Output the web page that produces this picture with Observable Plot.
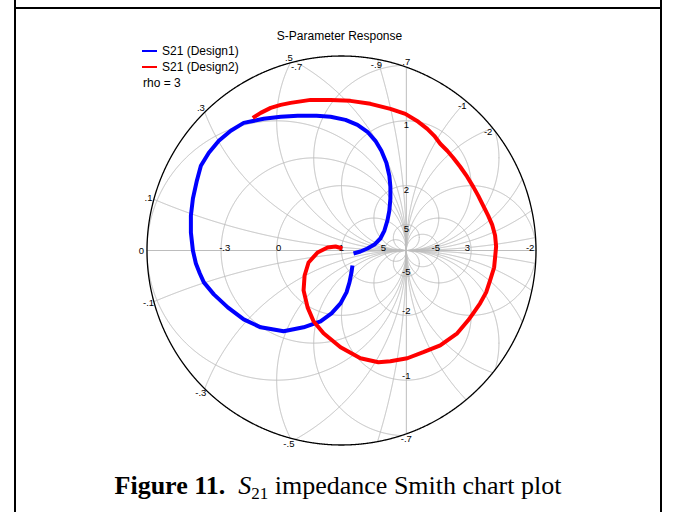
<!DOCTYPE html>
<html><head><meta charset="utf-8">
<script src="https://cdn.jsdelivr.net/npm/d3@7"></script>
<script src="https://cdn.jsdelivr.net/npm/@observablehq/plot@0.6"></script>
<style>
html,body{margin:0;padding:0;background:#fff;}
#page{position:relative;width:675px;height:512px;overflow:hidden;background:#fff;}
#chart{position:absolute;left:0;top:0;}
#overlay{position:absolute;left:0;top:0;pointer-events:none;}
</style></head>
<body>
<div id="page">
<div id="chart"></div>
<svg id="overlay" width="675" height="512" xmlns="http://www.w3.org/2000/svg">
  <line x1="15" y1="0" x2="15" y2="512" stroke="#000" stroke-width="2"/>
  <line x1="661" y1="0" x2="661" y2="512" stroke="#000" stroke-width="2"/>
  <line x1="14" y1="8" x2="662" y2="8" stroke="#000" stroke-width="2"/>
  <text x="339.5" y="40" text-anchor="middle" font-family="Liberation Sans, Arial, sans-serif" font-size="12" fill="#000">S-Parameter Response</text>
  <line x1="142" y1="51" x2="157" y2="51" stroke="#0000ff" stroke-width="2"/>
  <text x="162" y="55" font-family="Liberation Sans, Arial, sans-serif" font-size="12" fill="#000">S21 (Design1)</text>
  <line x1="142" y1="67" x2="157" y2="67" stroke="#ff0000" stroke-width="2"/>
  <text x="162" y="71" font-family="Liberation Sans, Arial, sans-serif" font-size="12" fill="#000">S21 (Design2)</text>
  <text x="143" y="87" font-family="Liberation Sans, Arial, sans-serif" font-size="12" fill="#000">rho = 3</text>
  <text x="338" y="494" text-anchor="middle" font-family="Liberation Serif, Times New Roman, serif" font-size="26" fill="#000"><tspan font-weight="bold">Figure 11.</tspan><tspan>&#160;&#160;</tspan><tspan font-style="italic">S</tspan><tspan font-size="17" dy="5">21</tspan><tspan dy="-5">&#160;impedance Smith chart plot</tspan></text>
</svg>
</div>
<script>
// ---- data (reflection coefficient, real / imaginary parts) ----
const design1 = [
 [0.185,-0.046],[0.292,-0.015],[0.4,0.031],[0.508,0.092],[0.6,0.185],[0.662,0.308],[0.708,0.462],
 [0.738,0.615],[0.754,0.8],[0.754,0.985],[0.738,1.154],[0.692,1.354],[0.615,1.538],[0.523,1.692],
 [0.4,1.831],[0.246,1.938],[0.062,2.015],[-0.169,2.062],[-0.385,2.077],[-0.677,2.077],[-0.938,2.062],
 [-1.2,2.031],[-1.508,1.969],[-1.708,1.846],[-1.892,1.692],[-2.046,1.508],[-2.169,1.308],[-2.231,1.077],
 [-2.292,0.8],[-2.323,0.538],[-2.323,0.277],[-2.292,0],[-2.246,-0.2],[-2.185,-0.354],[-2.123,-0.492],
 [-1.969,-0.677],[-1.754,-0.877],[-1.508,-1.062],[-1.246,-1.185],[-0.892,-1.246],[-0.585,-1.185],
 [-0.323,-1.092],[-0.154,-0.969],[-0.015,-0.815],[0.077,-0.646],[0.123,-0.492],[0.154,-0.338],[0.169,-0.231]
];
const design2 = [
 [-1.369,2.046],[-1.246,2.123],[-1.092,2.2],[-0.938,2.246],[-0.785,2.277],[-0.477,2.323],[-0.169,2.323],
 [0.138,2.308],[0.446,2.262],[0.754,2.185],[0.985,2.108],[1.185,1.985],[1.323,1.877],[1.431,1.769],
 [1.523,1.646],[1.631,1.538],[1.723,1.431],[1.831,1.292],[1.938,1.138],[2.031,0.985],[2.108,0.846],
 [2.185,0.692],[2.262,0.538],[2.323,0.4],[2.369,0.231],[2.385,0.062],[2.369,-0.108],[2.354,-0.262],
 [2.292,-0.462],[2.231,-0.646],[2.138,-0.815],[2.031,-0.969],[1.954,-1.077],[1.785,-1.277],[1.523,-1.462],
 [1.262,-1.569],[1.015,-1.662],[0.754,-1.708],[0.569,-1.723],[0.292,-1.662],[-0.015,-1.492],[-0.277,-1.277],
 [-0.431,-1.092],[-0.523,-0.877],[-0.585,-0.615],[-0.569,-0.385],[-0.508,-0.185],[-0.369,-0.031],
 [-0.215,0.046],[-0.092,0.062],[0.015,0.031]
];
const rho = 3;
const resistanceValues = [0, 1, 5, -0.3, -0.5, -0.7, -0.9, -1.3, -1.5, -2, -3, -5];
const reactanceValues = [0.1, 0.3, 0.5, 0.7, 1, 2, 5, -0.1, -0.3, -0.5, -0.7, -1, -2, -5];
// tick labels
const axisTickLabels = [
 {r:-0.3, text:"-.3"}, {r:0, text:"0"}, {r:1, text:"1"}, {r:5, text:"5"},
 {r:-5, text:"-5"}, {r:-3, text:"3"}, {r:-2, text:"-2"}
];
const lineTickLabels = [ // along the r = -1 line
 {x:0.7, text:".7"}, {x:1, text:"1"}, {x:2, text:"2"}, {x:5, text:"5"},
 {x:-5, text:"-5"}, {x:-2, text:"-2"}, {x:-1, text:"-1"}, {x:-0.7, text:"-.7"}
];
const rimReactanceLabels = [
 {x:0, text:"0"}, {x:0.1, text:".1"}, {x:-0.1, text:"-.1"}, {x:0.3, text:".3"}, {x:-0.3, text:"-.3"},
 {x:0.5, text:".5"}, {x:-0.5, text:"-.5"}
];
const rimResistanceLabels = [
 {r:-0.7, text:"-.7"}, {r:-0.9, text:"-.9"}, {r:-1.3, text:"-1"}, {r:-1.5, text:"-2"}
];

// ---- geometry ----
const Rpx = 194.5, U = Rpx / rho, CX = 341, CY = 250, H = 460;
function circlePts(cx, cy, rad, id, clip) {
  const n = Math.max(600, Math.ceil(rad * 2 * Math.PI / 0.008));
  const pts = [];
  for (let i = 0; i <= n; i++) {
    const t = 2 * Math.PI * i / n;
    const x = cx + rad * Math.cos(t), y = cy + rad * Math.sin(t);
    if (clip && Math.hypot(x, y) > rho + 1e-6) pts.push({x: NaN, y: NaN, id});
    else pts.push({x, y, id});
  }
  return pts;
}
function rimIntersections(cx, cy, rad) {
  const d = Math.hypot(cx, cy);
  const a = (rho * rho - rad * rad + d * d) / (2 * d);
  const h = Math.sqrt(Math.max(0, rho * rho - a * a));
  const ux = cx / d, uy = cy / d;
  return [[a * ux - h * uy, a * uy + h * ux], [a * ux + h * uy, a * uy - h * ux]];
}
const rCircle = r => [r / (r + 1), 0, 1 / Math.abs(r + 1)];
const xCircle = x => [1, 1 / x, 1 / Math.abs(x)];

let grid = [];
resistanceValues.forEach(r => { const [cx, cy, rad] = rCircle(r); grid = grid.concat(circlePts(cx, cy, rad, "r" + r, true)); });
reactanceValues.forEach(x => { const [cx, cy, rad] = xCircle(x); grid = grid.concat(circlePts(cx, cy, rad, "x" + x, true)); });
const lim = Math.sqrt(rho * rho - 1);
grid.push({x: 1, y: -lim, id: "r-1"}, {x: 1, y: lim, id: "r-1"});
grid.push({x: -rho, y: 0, id: "x0"}, {x: rho, y: 0, id: "x0"});
const outer = circlePts(0, 0, rho, "outer", false);

// label positions
const labels = [];
axisTickLabels.forEach(d => { const g = (d.r - 1) / (d.r + 1); labels.push({x: g * 0.97, y: 3 / U, text: d.text}); });
lineTickLabels.forEach(d => {
  let im = 2 / d.x;
  if (Math.abs(im) > lim) { im = Math.sign(im) * (lim + 5 / U); }
  else { im = im - Math.sign(im) * 4.5 / U; }
  labels.push({x: 1, y: im, text: d.text});
});
rimReactanceLabels.forEach(d => {
  let p;
  if (d.x === 0) p = [-rho, 0];
  else { const [cx, cy, rad] = xCircle(d.x); const ps = rimIntersections(cx, cy, rad); p = ps[0][0] < ps[1][0] ? ps[0] : ps[1]; }
  const k = 1 + 5.5 / Rpx;
  labels.push({x: p[0] * k, y: p[1] * k, text: d.text});
});
rimResistanceLabels.forEach(d => {
  const [cx, cy, rad] = rCircle(d.r); const ps = rimIntersections(cx, cy, rad);
  const p = ps[0][1] > ps[1][1] ? ps[0] : ps[1];
  const k = 1 - 6 / Rpx;
  labels.push({x: p[0] * k, y: p[1] * k, text: d.text});
});

const chart = Plot.plot({
  width: 675, height: H,
  marginLeft: CX - Rpx, marginRight: 675 - (CX + Rpx),
  marginTop: CY - Rpx, marginBottom: H - (CY + Rpx),
  x: {domain: [-rho, rho], axis: null},
  y: {domain: [-rho, rho], axis: null},
  style: {background: "transparent", overflow: "visible"},
  marks: [
    Plot.line(grid, {x: "x", y: "y", z: "id", stroke: "#bdbdbd", strokeWidth: 1}),
    Plot.text(labels, {x: "x", y: "y", text: "text", fontSize: 9.5, fill: "#000",
      fontFamily: "Liberation Sans, Arial, sans-serif", textAnchor: "middle", lineAnchor: "middle"}),
    Plot.line(outer, {x: "x", y: "y", stroke: "#000", strokeWidth: 1.3}),
    Plot.line(design1, {x: d => d[0], y: d => d[1], stroke: "#0000ff", strokeWidth: 4, strokeLinejoin: "round", strokeLinecap: "butt"}),
    Plot.line(design2, {x: d => d[0], y: d => d[1], stroke: "#ff0000", strokeWidth: 4, strokeLinejoin: "round", strokeLinecap: "butt"})
  ]
});
document.getElementById("chart").appendChild(chart);
</script>
</body></html>
